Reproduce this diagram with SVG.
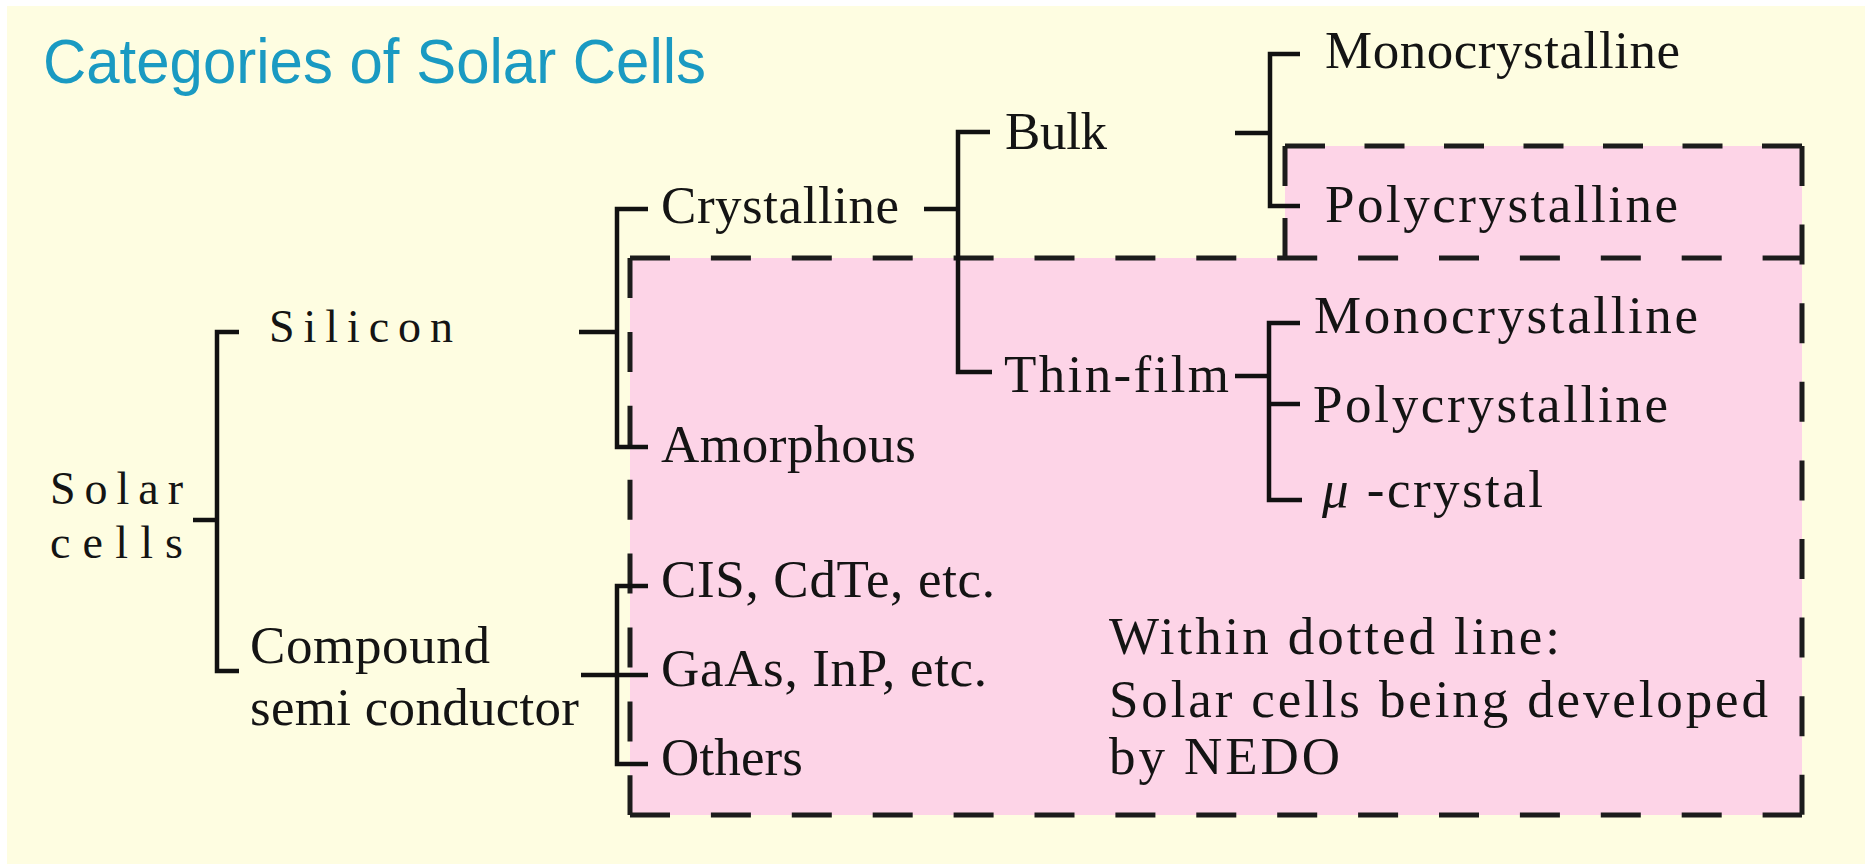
<svg xmlns="http://www.w3.org/2000/svg" width="1865" height="864" viewBox="0 0 1865 864">
<style>
.lbl{font-family:"Liberation Serif","Times New Roman",serif;font-size:53px;fill:#141414}
.sm{font-size:46px}
.title{font-family:"Liberation Sans",Arial,sans-serif;font-size:63px;fill:#1A9AC2}
.ln{fill:none;stroke:#111;stroke-width:4.5;stroke-linecap:butt;stroke-linejoin:miter}
.dash{fill:none;stroke:#1c1c1c;stroke-width:5;stroke-linecap:butt}
</style>
<rect x="0" y="0" width="1865" height="864" fill="#ffffff"/>
<rect x="7" y="6" width="1858" height="858" fill="#FEFDE1"/>
<g id="nedo-region">
<polygon points="630,258 1285,258 1285,146 1802,146 1802,815 630,815" fill="#FDD4E7"/>
<path class="dash" d="M630,258 H1802" stroke-dasharray="40 40.9"/>
<path class="dash" d="M630,815 H1802" stroke-dasharray="40 40.9"/>
<path class="dash" d="M630,258 V815" stroke-dasharray="40 33.9"/>
<path class="dash" d="M1802,146 V815" stroke-dasharray="40 38.6"/>
<path class="dash" d="M1285,146 H1802" stroke-dasharray="40 39.5"/>
<path class="dash" d="M1285,146 V258" stroke-dasharray="40 32"/>
</g>
<g id="title"><text class="title" x="43" y="83" textLength="663" lengthAdjust="spacingAndGlyphs">Categories of Solar Cells</text></g>
<g id="connectors">
<path class="ln" d="M239,332 H217 V671 H239"/>
<path class="ln" d="M193,520 H217"/>
<path class="ln" d="M579,332 H617"/>
<path class="ln" d="M648,209 H617 V447 H648"/>
<path class="ln" d="M924,209 H958"/>
<path class="ln" d="M990,132 H958 V372 H992"/>
<path class="ln" d="M1235,133 H1270"/>
<path class="ln" d="M1300,54 H1270 V206 H1300"/>
<path class="ln" d="M1235,376 H1269"/>
<path class="ln" d="M1300,323 H1269 V500 H1302"/>
<path class="ln" d="M1269,404 H1300"/>
<path class="ln" d="M581,675 H648"/>
<path class="ln" d="M648,586 H617 V764 H648"/>
</g>
<g id="solar-cells">
<text class="lbl sm" x="50" y="504" textLength="133">Solar</text>
<text class="lbl sm" x="50" y="558" textLength="133">cells</text>
</g>
<g id="silicon"><text class="lbl sm" x="269" y="342" textLength="184">Silicon</text></g>
<g id="compound">
<text class="lbl" x="250" y="663" textLength="240">Compound</text>
<text class="lbl" x="250" y="725" textLength="329">semi conductor</text>
</g>
<g id="crystalline"><text class="lbl" x="661" y="223" textLength="238">Crystalline</text></g>
<g id="amorphous"><text class="lbl" x="661" y="462" textLength="255">Amorphous</text></g>
<g id="bulk"><text class="lbl" x="1005" y="149" textLength="102">Bulk</text></g>
<g id="thin-film"><text class="lbl" x="1004" y="392" textLength="225">Thin-film</text></g>
<g id="bulk-mono"><text class="lbl" x="1325" y="68" textLength="355">Monocrystalline</text></g>
<g id="bulk-poly"><text class="lbl" x="1325" y="222" textLength="353">Polycrystalline</text></g>
<g id="thin-mono"><text class="lbl" x="1314" y="333" textLength="384">Monocrystalline</text></g>
<g id="thin-poly"><text class="lbl" x="1313" y="422" textLength="355">Polycrystalline</text></g>
<g id="thin-micro"><text class="lbl" x="1322" y="507" textLength="221"><tspan font-style="italic">μ</tspan> -crystal</text></g>
<g id="cis"><text class="lbl" x="661" y="597" textLength="334">CIS, CdTe, etc.</text></g>
<g id="gaas"><text class="lbl" x="661" y="686" textLength="326">GaAs, InP, etc.</text></g>
<g id="others"><text class="lbl" x="661" y="775" textLength="142">Others</text></g>
<g id="note">
<text class="lbl" x="1109" y="654" textLength="451">Within dotted line:</text>
<text class="lbl" x="1109" y="717" textLength="659">Solar cells being developed</text>
<text class="lbl" x="1109" y="774" textLength="231">by NEDO</text>
</g>
</svg>
